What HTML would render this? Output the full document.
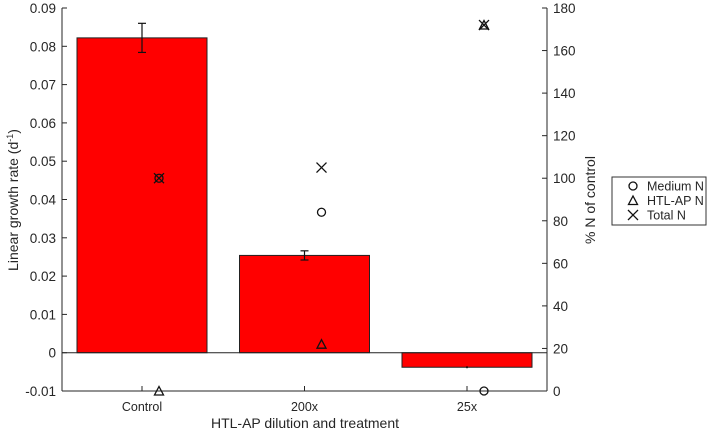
<!DOCTYPE html>
<html><head><meta charset="utf-8"><style>
body{margin:0;background:#fff}
svg text{font-family:"Liberation Sans",Arial,sans-serif;fill:#262626}
</style></head><body>
<svg id="c" width="710" height="435" xmlns="http://www.w3.org/2000/svg"></svg>
<script>
const categories=["Control","200x","25x"];
const growth=[0.0822,0.0254,-0.0038];
const growthErr=[0.0038,0.0012,0.0001];
const mediumN=[100,84,0];
const htlN=[0,22,172];
const totalN=[100,105,172];
const leftTicks=[-0.01,0,0.01,0.02,0.03,0.04,0.05,0.06,0.07,0.08,0.09];
const rightTicks=[0,20,40,60,80,100,120,140,160,180];

const L=62,R=547,T=8,B=391;
const yL=v=>B-(v+0.01)/0.1*(B-T);
const yR=v=>B-v/180*(B-T);
const step=162.5, x0=142;
const xC=i=>x0+i*step;
const bw=130;
const svg=document.getElementById('c');
const NS="http://www.w3.org/2000/svg";
function mk(tag,attrs,parent){const e=document.createElementNS(NS,tag);for(const k in attrs)e.setAttribute(k,attrs[k]);(parent||svg).appendChild(e);return e;}

growth.forEach((v,i)=>{
  const y0=yL(0),y1=yL(v);
  const r=mk('rect',{x:xC(i)-bw/2,y:Math.min(y0,y1),width:bw,height:Math.abs(y1-y0),fill:'#ff0000',stroke:'#222','stroke-width':1});
  
  
  const e=growthErr[i],x=xC(i);
  const g=mk('g',{stroke:'#111','stroke-width':1.2});
  
  
  const cap=e>0.0005?4:0.8;
  mk('line',{x1:x,x2:x,y1:yL(v-e),y2:yL(v+e)},g);
  mk('line',{x1:x-cap,x2:x+cap,y1:yL(v-e),y2:yL(v-e)},g);
  mk('line',{x1:x-cap,x2:x+cap,y1:yL(v+e),y2:yL(v+e)},g);
});
const zl=mk('line',{x1:L,x2:R,y1:yL(0),y2:yL(0),stroke:'#222','stroke-width':1});



const ax=mk('g',{stroke:'#262626','stroke-width':1,fill:'none'});


mk('line',{x1:L,x2:L,y1:T,y2:B},ax);
mk('line',{x1:R,x2:R,y1:T,y2:B},ax);
mk('line',{x1:L,x2:R,y1:B,y2:B},ax);
leftTicks.forEach(t=>{
  const y=yL(t);
  mk('line',{x1:L,x2:L+5,y1:y,y2:y},ax);
  const tx=mk('text',{x:L-6,y:y+5,'text-anchor':'end','font-size':13.5});
  tx.textContent=String(t);
  
  
});
rightTicks.forEach(t=>{
  const y=yR(t);
  mk('line',{x1:R,x2:R-5,y1:y,y2:y},ax);
  const tx=mk('text',{x:R+6,y:y+5,'font-size':13.5});
  tx.textContent=String(t);
  
  
});
categories.forEach((c,i)=>{
  mk('line',{x1:xC(i),x2:xC(i),y1:B,y2:B-5},ax);
  const tx=mk('text',{x:xC(i),y:B+20,'text-anchor':'middle','font-size':12.5});
  tx.textContent=c;
  
  
});

const off=17;
function circ(x,y,p){mk('circle',{cx:x,cy:y,r:4,fill:'none',stroke:'#111','stroke-width':1.3},p);}
function tri(x,y,p){mk('path',{d:`M${x-4.5},${y+4} L${x+4.5},${y+4} L${x},${y-4.5} Z`,fill:'none',stroke:'#111','stroke-width':1.3},p);}
function cross(x,y,p){mk('path',{d:`M${x-5},${y-5} L${x+5},${y+5} M${x-5},${y+5} L${x+5},${y-5}`,stroke:'#111','stroke-width':1.3},p);}
categories.forEach((c,i)=>{
  const x=xC(i)+off;
  const g=mk('g',{});
  
  
  circ(x,yR(mediumN[i]),g);
  tri(x,yR(htlN[i]),g);
  cross(x,yR(totalN[i]),g);
});

const xt=mk('text',{x:305,y:428,'text-anchor':'middle','font-size':14});
xt.textContent='HTL-AP dilution and treatment';


const yt=mk('text',{transform:'translate(18,200) rotate(-90)','text-anchor':'middle','font-size':14});
yt.innerHTML='Linear growth rate (d<tspan baseline-shift="super" font-size="9">-1</tspan>)';


const yr=mk('text',{transform:'translate(595,200) rotate(-90)','text-anchor':'middle','font-size':14});
yr.textContent='% N of control';



const lg=mk('g',{});


mk('rect',{x:612,y:177,width:94,height:48,fill:'#fff',stroke:'#333','stroke-width':1},lg);
const names=['Medium N','HTL-AP N','Total N'];
[circ,tri,cross].forEach((f,i)=>{
  const y=186+i*14.5;
  f(633,y,lg);
  const t=mk('text',{x:647,y:y+4.5,'font-size':12.5},lg);
  t.textContent=names[i];
  
  
});
</script>
</body></html>
